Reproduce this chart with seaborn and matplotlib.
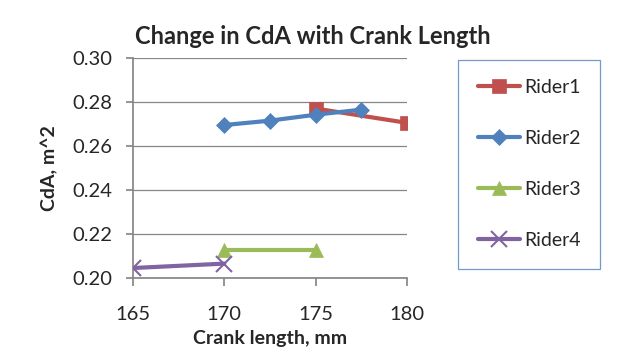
import numpy as np
import pandas as pd
import matplotlib
matplotlib.use("Agg")
import matplotlib.pyplot as plt
import seaborn as sns

# ── Data ────────────────────────────────────────────────────────────────
rider1_x = [175, 180]
rider1_y = [0.277, 0.2705]
rider2_x = [170, 172.5, 175, 177.5]
rider2_y = [0.2695, 0.2715, 0.2742, 0.2765]
rider3_x = [170, 175]
rider3_y = [0.2128, 0.2128]
rider4_x = [165, 170]
rider4_y = [0.2045, 0.2065]

riders = ["Rider1", "Rider2", "Rider3", "Rider4"]
xs = [rider1_x, rider2_x, rider3_x, rider4_x]
ys = [rider1_y, rider2_y, rider3_y, rider4_y]

df = pd.concat([pd.DataFrame({"crank": x, "cda": y, "rider": r})
                for r, x, y in zip(riders, xs, ys)], ignore_index=True)

colors = {"Rider1": "#C0504D", "Rider2": "#4F81BD",
          "Rider3": "#9BBB59", "Rider4": "#8064A2"}
markers = {"Rider1": "s", "Rider2": "D", "Rider3": "^", "Rider4": "x"}
msizes = {"Rider1": 10, "Rider2": 8, "Rider3": 10, "Rider4": 11}

# ── Plot ────────────────────────────────────────────────────────────────
sns.set_theme(style="white")
plt.rcParams["font.family"] = ["Lato", "DejaVu Sans"]

fig = plt.figure(figsize=(6.3, 3.6), dpi=100)
ax = fig.add_axes([0.211, 0.228, 0.435, 0.611])

for r in riders:
    sub = df[df["rider"] == r]
    sns.lineplot(data=sub, x="crank", y="cda", ax=ax, color=colors[r],
                 linewidth=3, marker=markers[r], markersize=msizes[r],
                 markeredgecolor=colors[r],
                 markeredgewidth=1.5 if r == "Rider4" else 0.5,
                 label=r, zorder=3)

ax.set_xlim(165, 180)
ax.set_ylim(0.20, 0.30)
ax.set_xticks([165, 170, 175, 180])
ax.set_yticks(np.arange(0.20, 0.301, 0.02))
ax.set_yticklabels([f"{v:.2f}" for v in np.arange(0.20, 0.301, 0.02)])
ax.yaxis.grid(True, color="#868686", linewidth=0.9)
ax.xaxis.grid(False)
for s in ["top", "right"]:
    ax.spines[s].set_visible(False)
for s in ["left", "bottom"]:
    ax.spines[s].set_color("#868686")
ax.tick_params(axis="x", which="both", direction="out", length=6,
               color="#868686", labelsize=14.5, pad=14, bottom=True)
ax.tick_params(axis="y", direction="out", length=5, color="#868686",
               labelsize=14.5, pad=10, left=True)

ax.set_xlabel("Crank length, mm", fontsize=14, fontweight="bold", labelpad=5)
ax.set_ylabel("CdA, m^2", fontsize=14, fontweight="bold", labelpad=10)
fig.text(0.497, 0.9, "Change in CdA with Crank Length", ha="center",
         va="center", fontsize=17, fontweight="bold")

leg = ax.legend(loc="upper left", bbox_to_anchor=(1.151, 1.036), frameon=True,
                fontsize=14, handlelength=2.2, labelspacing=1.75,
                borderpad=1.0, handletextpad=0.2, fancybox=False)
leg.get_frame().set_edgecolor("#4F81BD")
leg.get_frame().set_linewidth(0.9)

fig.savefig("out.png", dpi=100)
